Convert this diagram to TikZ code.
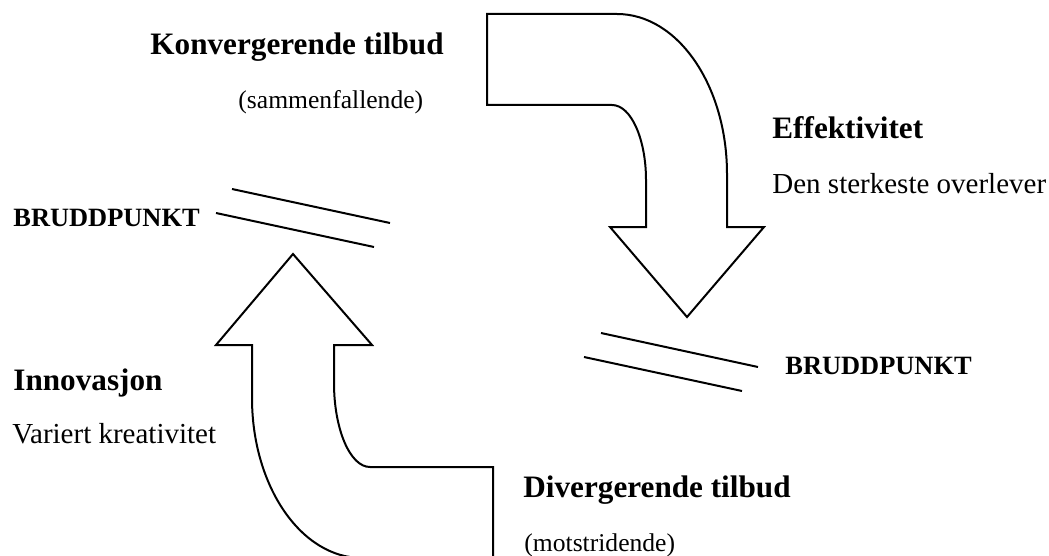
\documentclass[tikz,border=0pt]{standalone}
\usepackage{fontspec}
\setmainfont{Liberation Serif}
\usepackage{tikz}

\begin{document}
\begin{tikzpicture}[
  x=0.5pt, y=-0.5pt,
  head/.style={anchor=base west, inner sep=0pt, font=\fontsize{15.6}{18}\selectfont\bfseries},
  sub/.style={anchor=base west, inner sep=0pt, font=\fontsize{14.5}{17}\selectfont},
  par/.style={anchor=base west, inner sep=0pt, font=\fontsize{12.8}{15}\selectfont},
  brk/.style={anchor=base west, inner sep=0pt, font=\fontsize{13.2}{15}\selectfont\bfseries},
  blk/.style={draw, line width=1pt, line join=miter, fill=white},
  cut/.style={line width=1pt},
]
\clip (0,0) rectangle (1049,556);

% --- bent arrow, top: converging offers -> efficiency ------------------
\draw[blk] (487,14) -- (617,14) .. controls (678,14) and (727,86) .. (727,174)
  -- (727,227) -- (764,227) -- (687,317) -- (610,227) -- (646,227)
  -- (646,180) .. controls (646,139) and (631,105) .. (612,105)
  -- (487,105) -- cycle;

% --- bent arrow, bottom: diverging offers -> innovation (runs off the page)
\draw[blk] (334,345) -- (334,383) .. controls (334,429) and (350,467) .. (370,467)
  -- (493,467) -- (493,558) -- (362,558)
  .. controls (301,558) and (252,486) .. (252,398)
  -- (252,345) -- (216,345) -- (293,254) -- (372,345) -- cycle;

% --- break points (double strokes) ----------------------------------------
\draw[cut] (232,189) -- (390,223);
\draw[cut] (216,213) -- (374,247);
\draw[cut] (601,333) -- (758,367);
\draw[cut] (584,357) -- (742,391);

% --- labels -----------------------------------------------------------------
\node[head] (konv) at (150,55) {Konvergerende tilbud};
\node[par]  (samm) at (238,109) {(sammenfallende)};
\node[head] (eff)  at (772,139) {Effektivitet};
\node[sub]  (sterk) at (772,193) {Den sterkeste overlever};
\node[brk]  (brudd1) at (13,226) {BRUDDPUNKT};
\node[brk]  (brudd2) at (785,374) {BRUDDPUNKT};
\node[head] (innov) at (13,390) {Innovasjon};
\node[sub]  (var)  at (12,443) {Variert kreativitet};
\node[head] (div)  at (523,497) {Divergerende tilbud};
\node[par]  (mot)  at (524,551) {(motstridende)};
\end{tikzpicture}
\end{document}
